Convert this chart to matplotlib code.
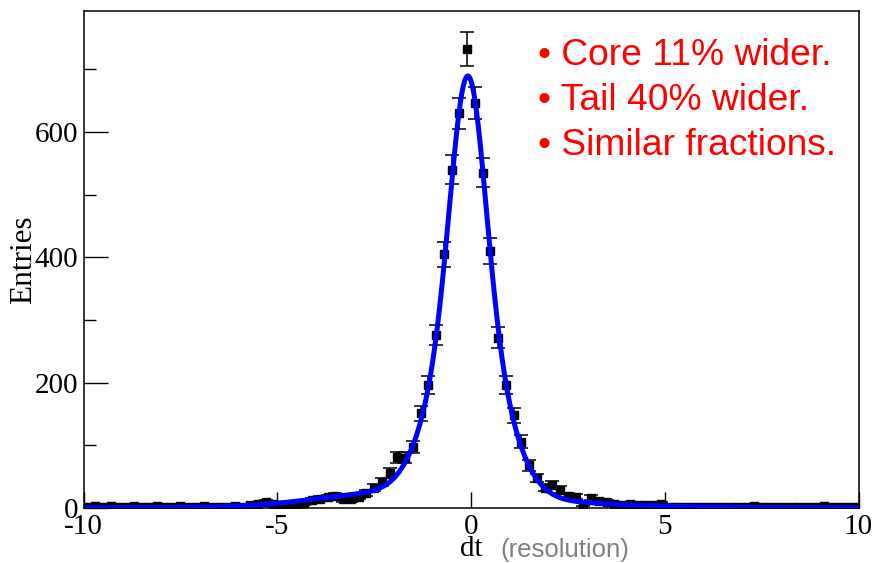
import numpy as np
import matplotlib
matplotlib.use("Agg")
import matplotlib.pyplot as plt
from matplotlib.ticker import MultipleLocator

# Histogram of dt: 100 bins of width 0.2 between -10 and 10
bin_edges = np.linspace(-10, 10, 101)
bin_centers = 0.5 * (bin_edges[:-1] + bin_edges[1:])

counts = [
    2, 3, 1, 3, 2, 2, 3, 1, 2, 3,
    2, 1, 3, 2, 1, 3, 2, 1, 2, 3,
    2, 4, 6, 10, 7, 4, 5, 7, 8, 12,
    15, 17, 19, 14, 14, 18, 24, 32, 41, 56,
    81, 80, 97, 151, 196, 276, 405, 540, 630, 733,
    647, 535, 410, 272, 196, 148, 106, 68, 48, 32,
    37, 29, 19, 18, 5, 16, 11, 10, 7, 5,
    6, 4, 5, 4, 7, 2, 1, 2, 1, 2,
    1, 2, 1, 2, 1, 2, 3, 2, 1, 2,
    1, 1, 2, 1, 2, 3, 1, 1, 2, 1,
]

# Resolution model: core, tail, wide and outlier Gaussians plus a
# small negative-side component
fit_means = [-0.08, -0.08, -0.08, 0.0, -2.6]
fit_amplitudes = [360.0, 310.0, 14.3, 1.5, 13.0]
fit_sigmas = [0.43, 0.84, 2.58, 6.0, 1.6]

x_ticks = [-10, -5, 0, 5, 10]
y_ticks = [0, 200, 400, 600]

notes = ["\u2022 Core 11% wider.", "\u2022 Tail 40% wider.", "\u2022 Similar fractions."]

W, H = 873, 563
fig = plt.figure(figsize=(W / 100, H / 100), dpi=100)
ax = fig.add_axes([83.5 / W, 55 / H, 775 / W, 497.5 / H])

counts_arr = np.array(counts, dtype=float)
errors = np.sqrt(counts_arr)
ax.errorbar(bin_centers, counts_arr, yerr=errors, fmt="s", color="black",
            markersize=6, elinewidth=1.1, capsize=5, capthick=1.1, zorder=2)

xf = np.linspace(-10, 10, 2001)
yf = np.zeros_like(xf)
for m, a, s in zip(fit_means, fit_amplitudes, fit_sigmas):
    yf += a * np.exp(-0.5 * ((xf - m) / s) ** 2)
ax.plot(xf, yf, color=(0, 0, 1), linewidth=3.6, zorder=3, solid_capstyle="round")

ax.set_xlim(-10, 10)
ax.set_ylim(0, 794)
ax.set_xticks(x_ticks)
ax.set_xticklabels([str(t) for t in x_ticks])
ax.set_yticks(y_ticks)
ax.set_yticklabels([str(t) for t in y_ticks])
ax.yaxis.set_minor_locator(MultipleLocator(100))

serif = ["Liberation Serif", "DejaVu Serif"]
sans = ["Liberation Sans", "DejaVu Sans"]

for lab in ax.get_xticklabels() + ax.get_yticklabels():
    lab.set_fontfamily(serif)
    lab.set_fontsize(21)

ax.tick_params(axis="both", which="both", direction="in", width=1.0, colors="black")
ax.tick_params(axis="y", which="major", length=17, pad=4)
ax.tick_params(axis="y", which="minor", length=8.5)
ax.tick_params(axis="x", which="major", length=11.5, pad=4.5)

for sp in ax.spines.values():
    sp.set_linewidth(1.1)
    sp.set_color("black")

ax.set_ylabel("Entries", fontfamily=serif, fontsize=22.5, labelpad=-3)
ax.set_xlabel("dt", fontfamily=serif, fontsize=21, labelpad=-3)
fig.text(500 / W, 1 - 557 / H, "(resolution)", fontfamily=sans, fontsize=18.5,
         color="#808080", ha="left", va="baseline")

baselines = [65, 110, 155]
for txt, yb in zip(notes, baselines):
    fig.text(538 / W, 1 - yb / H, txt, fontfamily=sans, fontsize=26.7,
             color=(1, 0, 0), ha="left", va="baseline")

fig.savefig("out.png", dpi=100)
